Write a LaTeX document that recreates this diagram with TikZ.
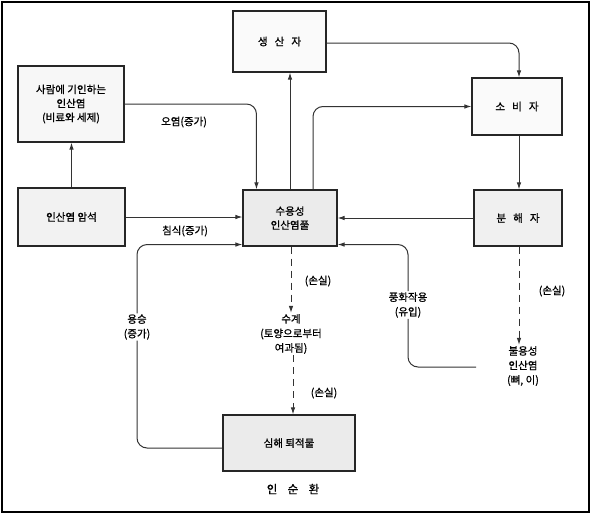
\documentclass[tikz,border=0pt]{standalone}
\usepackage{fontspec}
\setmainfont{Noto Sans CJK KR}[FakeBold=0.9]
\usetikzlibrary{arrows.meta}
\tikzset{
  box/.style={draw=black!85, line width=1.1pt, fill=#1, inner sep=0pt, align=center, font=\fontsize{10.5}{14}\selectfont},
  box/.default=white,
  lbl/.style={align=center, inner sep=1pt, font=\fontsize{10.5}{14.5}\selectfont},
  conn/.style={draw=black!80, line width=1pt},
  arr/.style={conn, -{Latex[length=7pt,width=4.5pt]}},
  dsh/.style={arr, dash pattern=on 7pt off 5pt},
  rc/.style={rounded corners=10pt}
}
\begin{document}
\begin{tikzpicture}[x=1pt,y=-1pt]
\useasboundingbox (0,0) rectangle (591,514);
\draw[line width=1.8pt] (2,2) rectangle (589,512);

\node[box=black!2, minimum width=93pt, minimum height=61pt] (prod) at (279.5,41.5) {생\ \ \ 산\ \ \ 자};
\node[box=black!3, minimum width=106pt, minimum height=76pt] (human) at (71,104) {사람에 기인하는\\인산염\\(비료와 세제)};
\node[box=black!5, minimum width=107pt, minimum height=58pt] (rock) at (71.5,217) {인산염 암석};
\node[box=black!8, minimum width=94pt, minimum height=56pt] (pool) at (290,218) {수용성\\인산염풀};
\node[box=black!2, minimum width=90pt, minimum height=57pt] (cons) at (517,106.5) {소\ \ \ 비\ \ \ 자};
\node[box=black!6, minimum width=88pt, minimum height=56pt] (dec) at (518,218) {분\ \ \ 해\ \ \ 자};
\node[box=black!8, minimum width=132pt, minimum height=56pt] (sed) at (289,443) {심해 퇴적물};

\node[lbl] (insol) at (523,366) {불용성\\인산염\\(뼈, 이)};
\node[lbl] (suike) at (291,334) {수계\\(토양으로부터\\여과됨)};
\node[lbl] (weath) at (408,305) {풍화작용\\(유입)};
\node[lbl] (upw) at (137,327) {용승\\(증가)};

\node[lbl] (l1) at (184,122) {오염(증가)};
\node[lbl] (l2) at (185,231) {침식(증가)};
\node[lbl] (l3) at (318,281) {(손실)};
\node[lbl] (l4) at (324,393) {(손실)};
\node[lbl] (l5) at (552,291) {(손실)};
\node[lbl, font=\fontsize{11.5}{14}\selectfont] (title) at (293,489) {인\ \ \ \ 순\ \ \ \ 환};

\coordinate (wstart) at (476,367);

% connectors
\draw[arr, rc] (human.east) -| ([xshift=14pt]pool.north west);
\draw[arr] (rock.east) -- (rock.east -| pool.west);
\draw[arr] (rock.north) -- (rock.north |- human.south);
\draw[arr] (pool.north) -- (pool.north |- prod.south);
\draw[arr, rc] ([xshift=23pt]pool.north) |- (cons.west);
\draw[arr, rc] ([yshift=-1.5pt]prod.east) -| ([xshift=2pt]cons.north);
\draw[arr] ([xshift=2pt]cons.south) -- ([xshift=1pt]dec.north);
\draw[arr] (dec.west) -- (dec.west -| pool.east);
\draw[dsh] ([xshift=1pt]dec.south) -- ([xshift=1pt]dec.south |- insol.north);
\draw[conn, rc] (wstart) -| (weath.south);
\draw[arr, rc] (weath.north) |- ([yshift=2pt]pool.south east);
\draw[dsh] ([xshift=1pt]pool.south) -- ([xshift=1pt]pool.south |- suike.north);
\draw[dsh] ([xshift=3pt]suike.south -| pool.south) -- ([xshift=3pt]pool.south |- sed.north);
\draw[conn, rc] ([yshift=-5pt]sed.west) -| (upw.south);
\draw[arr, rc] (upw.north) |- ([yshift=2pt]pool.south west);
\end{tikzpicture}
\end{document}
